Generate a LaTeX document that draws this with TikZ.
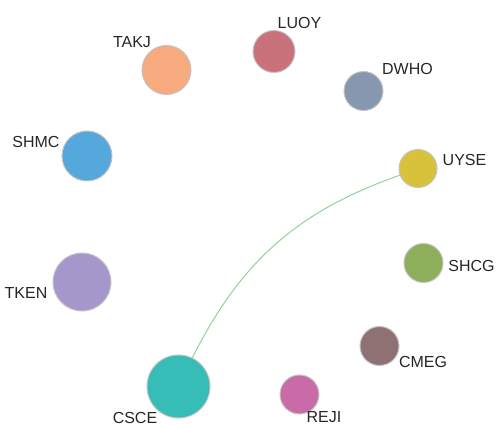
\documentclass[tikz,border=0pt]{standalone}
\usepackage{fontspec}
\setmainfont{Liberation Sans}
\definecolor{cTAKJ}{HTML}{F6AA7E}
\definecolor{cLUOY}{HTML}{C9727C}
\definecolor{cDWHO}{HTML}{8797B0}
\definecolor{cUYSE}{HTML}{D8C23A}
\definecolor{cSHMC}{HTML}{55A8DC}
\definecolor{cTKEN}{HTML}{A597CB}
\definecolor{cSHCG}{HTML}{8DAF5C}
\definecolor{cCMEG}{HTML}{8F7073}
\definecolor{cCSCE}{HTML}{37BDB8}
\definecolor{cREJI}{HTML}{C86BA8}
\definecolor{ring}{HTML}{C4C4C4}
\definecolor{edgegreen}{HTML}{8FD39B}
\tikzset{
  vertex/.style={circle, draw=ring, line width=1pt, inner sep=0pt, outer sep=0pt},
  tag/.style={inner sep=0pt, font=\fontsize{16}{19}\selectfont, text=black!85},
  link/.style={draw=edgegreen, line width=1pt}
}
\begin{document}
\begin{tikzpicture}[x=1pt,y=1pt]
\useasboundingbox (0,0) rectangle (496,426);
% circles (y = 426 - image y)
\node[vertex, fill=cTAKJ, minimum size=49] (TAKJ) at (166.5,356) {};
\node[vertex, fill=cLUOY, minimum size=42] (LUOY) at (274,374.5) {};
\node[vertex, fill=cDWHO, minimum size=39] (DWHO) at (363.5,335) {};
\node[vertex, fill=cUYSE, minimum size=38] (UYSE) at (418,257.5) {};
\node[vertex, fill=cSHMC, minimum size=50] (SHMC) at (87,270) {};
\node[vertex, fill=cTKEN, minimum size=58] (TKEN) at (82,144) {};
\node[vertex, fill=cSHCG, minimum size=39] (SHCG) at (423.5,163) {};
\node[vertex, fill=cCMEG, minimum size=39] (CMEG) at (379.5,80) {};
\node[vertex, fill=cCSCE, minimum size=63] (CSCE) at (178.5,39.5) {};
\node[vertex, fill=cREJI, minimum size=39] (REJI) at (299.5,31.5) {};
% labels
\node[tag] (tLUOY) at (299.5,403) {LUOY};
\node[tag] (tTAKJ) at (132,384) {TAKJ};
\node[tag] (tDWHO) at (407.5,357) {DWHO};
\node[tag] (tUYSE) at (464.5,266) {UYSE};
\node[tag] (tSHMC) at (36,284) {SHMC};
\node[tag] (tTKEN) at (26,133) {TKEN};
\node[tag] (tSHCG) at (471.5,160) {SHCG};
\node[tag] (tCMEG) at (423,64) {CMEG};
\node[tag] (tCSCE) at (135,8.5) {CSCE};
\node[tag] (tREJI) at (324,8.5) {REJI};
% edge
\draw[link] (CSCE) to[bend left=22] (UYSE);
\end{tikzpicture}
\end{document}
